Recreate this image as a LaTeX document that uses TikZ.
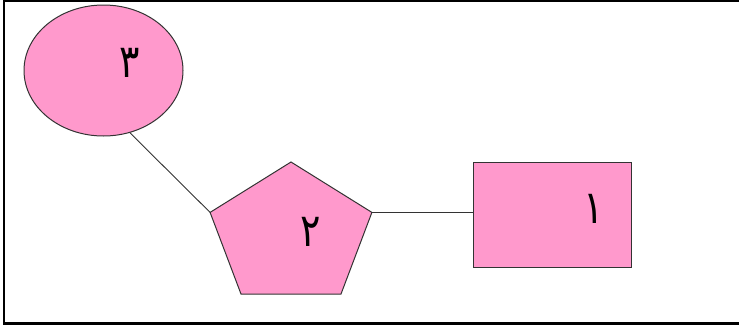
\documentclass[tikz,border=0pt]{standalone}
\usepackage{fontspec}
\TeXXeTstate=1
\newfontfamily\arabicfont[Script=Arabic]{DejaVu Sans}
\usetikzlibrary{shapes.geometric}
\definecolor{shapepink}{HTML}{FF99CC}
\definecolor{edgegray}{HTML}{333333}
\tikzset{
  shapeline/.style={draw=edgegray, line width=1pt, fill=shapepink},
  digit/.style={font=\arabicfont\fontsize{40}{40}\selectfont, inner sep=0pt, anchor=center},
  connector/.style={draw=edgegray, line width=0.9pt},
  frameline/.style={draw=black, line width=2.3pt}
}
\newcommand{\tallglyph}[1]{\scalebox{0.95}[1.15]{#1}}
\begin{document}
\begin{tikzpicture}[x=1pt,y=-1pt]
\useasboundingbox (0,0) rectangle (739,327);
% frame
\draw[frameline] (739,0.8) -- (4,0.8) -- (4,323.5) -- (739,323.5);
% ellipse
\node[shapeline, ellipse, minimum width=159pt, minimum height=131pt, inner sep=0pt] (e) at (103.5,70.5) {};
\node[digit] (el) at (130,63) {\tallglyph{\beginR ٣\endR}};
% pentagon
\coordinate (pt) at (291,162);
\coordinate (pr) at (371.9,212.4);
\coordinate (pbr) at (341,294);
\coordinate (pbl) at (241,294);
\coordinate (pl) at (210.1,212.4);
\draw[shapeline, line join=miter] (pt) -- (pr) -- (pbr) -- (pbl) -- (pl) -- cycle;
\node[digit] (pla) at (311,232) {\tallglyph{\beginR ٢\endR}};
% rectangle
\node[shapeline, rectangle, minimum width=158pt, minimum height=105pt, inner sep=0pt] (r) at (552.5,214.5) {};
\node[digit] (rl) at (594,209) {\tallglyph{\beginR ١\endR}};
% connectors
\draw[connector] (e.-67) -- (pl);
\draw[connector] (pr) -- (r.west |- pr);
\end{tikzpicture}
\end{document}
